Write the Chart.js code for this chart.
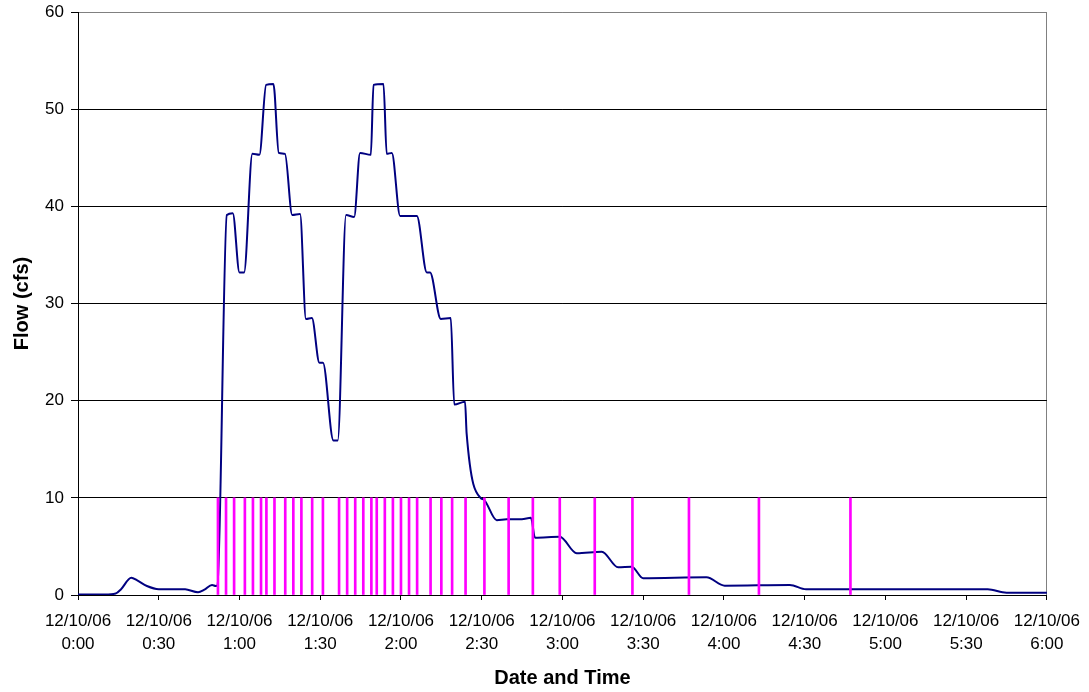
<!DOCTYPE html>
<html>
<head>
<meta charset="utf-8">
<script src="https://cdn.jsdelivr.net/npm/chart.js@4/dist/chart.umd.min.js"></script>
<style>
  html, body { margin: 0; padding: 0; background: #fff; }
  #wrap { width: 1089px; height: 692px; }
</style>
</head>
<body>
<div id="wrap"><canvas id="flowChart"></canvas></div>
<script>
// minutes after 0:00 on 12/10/06, and flow in cfs
var flowMinutes = [0, 10, 14, 16, 19.8, 22, 25.6, 30, 35, 39.8, 44.6, 47, 49.8, 51.2, 51.8,
  55.3, 57.5, 60, 61.7, 64.8, 67.4, 69.9, 72.6, 74.6, 76.9, 79.6, 82.5, 84.7, 86.9, 89.7, 91,
  94.9, 96.5, 99.6, 102.6, 104.8, 108.8, 109.8, 113.5, 114.7, 116.6, 119.7, 125.9, 129.6, 130.8,
  134.8, 138.5, 139.8, 143.8, 144.4, 149.7, 150.6, 155.6, 159.3, 164.9, 168.3, 169.8, 179,
  185.3, 194.6, 200.7, 205.7, 210, 233.5, 240.3, 264.5, 270.5, 338, 345, 360];
var flowCfs = [0.05, 0.05, 0.15, 0.6, 1.78, 1.5, 0.93, 0.6, 0.6, 0.58, 0.28, 0.55, 1.03, 0.93, 1.0,
  39.1, 39.3, 33.2, 33.2, 45.4, 45.3, 52.5, 52.6, 45.5, 45.4, 39.1, 39.2, 28.4, 28.5, 23.9, 23.9,
  15.9, 15.9, 39.1, 38.9, 45.5, 45.3, 52.5, 52.6, 45.4, 45.5, 39.0, 39.0, 33.2, 33.2,
  28.4, 28.5, 19.6, 19.9, 16.6, 9.95, 9.85, 7.7, 7.8, 7.8, 7.95, 5.9, 6.0,
  4.3, 4.45, 2.85, 2.9, 1.72, 1.82, 0.96, 1.03, 0.58, 0.58, 0.24, 0.24];

// sample collection times (minutes) shown as markers up to 10 cfs
var sampleMinutes = [52, 55, 58, 62, 65, 68, 70, 73, 77, 80, 83, 87, 91, 97, 100, 103, 106, 109,
  111, 114, 117, 120, 123, 126, 131, 135, 139, 144, 151, 160, 169, 179, 192, 206, 227, 253, 287];
var sampleLevel = 10;

var dateLabel = '12/10/06';
var timeLabels = ['0:00', '0:30', '1:00', '1:30', '2:00', '2:30', '3:00', '3:30', '4:00', '4:30', '5:00', '5:30', '6:00'];

var flowPoints = flowMinutes.map(function (m, i) { return { x: m, y: flowCfs[i] }; });
var samplePoints = sampleMinutes.map(function (m) { return { x: m, y: sampleLevel }; });

Chart.defaults.font.family = "'Liberation Sans', Arial, sans-serif";
Chart.defaults.color = '#000';

var ctx = document.getElementById('flowChart').getContext('2d');
var flowChart = new Chart(ctx, {
  type: 'line',
  data: {
    datasets: [{
      type: 'bar',
      label: 'Samples',
      data: samplePoints,
      backgroundColor: '#ff00ff',
      borderWidth: 0,
      barThickness: 2
    }, {
      label: 'Flow',
      data: flowPoints,
      borderColor: '#000080',
      borderWidth: 2,
      pointRadius: 0,
      cubicInterpolationMode: 'monotone',
      fill: false
    }]
  },
  options: {
    responsive: true,
    maintainAspectRatio: false,
    animation: false,
    layout: { padding: { top: 12, right: 42, bottom: 0, left: 0 } },
    plugins: {
      legend: { display: false },
      tooltip: { enabled: false }
    },
    scales: {
      x: {
        type: 'linear',
        min: 0,
        max: 360,
        offset: false,
        afterFit: function (scale) { scale.height = 97; },
        ticks: {
          stepSize: 30,
          autoSkip: false,
          maxRotation: 0,
          padding: 9,
          font: { size: 17, lineHeight: 1.4 },
          callback: function (v) { return [dateLabel, timeLabels[Math.round(v / 30)]]; }
        },
        grid: {
          offset: false,
          drawOnChartArea: true,
          tickLength: 5,
          tickColor: '#000',
          color: function (c) { return c.tick && c.tick.value === 360 ? '#808080' : 'rgba(0,0,0,0)'; }
        },
        border: { display: true, color: '#000', width: 1 },
        title: {
          display: true,
          text: 'Date and Time',
          font: { size: 20, weight: 'bold' },
          padding: { top: 0, bottom: 2 }
        }
      },
      y: {
        min: 0,
        max: 60,
        afterFit: function (scale) {
          scale.width = 78;
          scale.paddingTop = 0;
          scale.paddingBottom = 0;
        },
        ticks: {
          stepSize: 10,
          padding: 7,
          font: { size: 17 }
        },
        grid: {
          tickLength: 7,
          tickColor: '#000',
          color: function (c) { return c.tick && c.tick.value === 60 ? '#808080' : '#000'; }
        },
        border: { display: true, color: '#000', width: 1 },
        title: {
          display: true,
          text: 'Flow (cfs)',
          font: { size: 20, weight: 'bold' },
          padding: { top: 10, bottom: 0 }
        }
      }
    }
  }
});
</script>
</body>
</html>
